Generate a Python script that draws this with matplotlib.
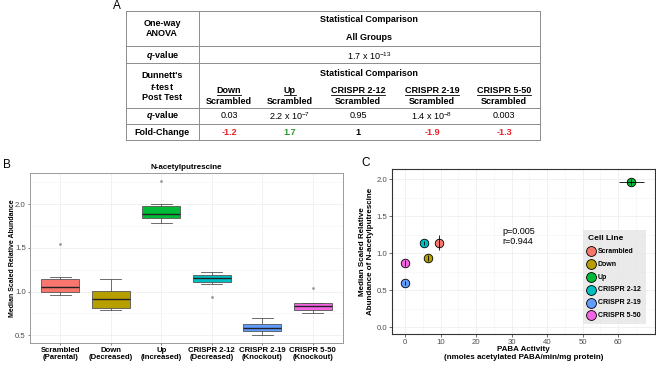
import numpy as np
import matplotlib
matplotlib.use('Agg')
import matplotlib.pyplot as plt

plt.rcParams['font.family'] = ['Liberation Sans', 'DejaVu Sans']
plt.rcParams['mathtext.fontset'] = 'custom'
plt.rcParams['mathtext.rm'] = 'Liberation Sans'
plt.rcParams['mathtext.it'] = 'Liberation Sans:italic:bold'
plt.rcParams['mathtext.default'] = 'regular'

# ---- table (panel A) ----
comp_groups = ['Down', 'Up', 'CRISPR 2-12', 'CRISPR 2-19', 'CRISPR 5-50']
q_values = ['0.03', r'2.2 x 10$^{-7}$', '0.95', r'1.4 x 10$^{-8}$', '0.003']
fold_change = ['-1.2', '1.7', '1', '-1.9', '-1.3']
anova_q = r'1.7 x 10$^{-13}$'

# ---- box plot (panel B) ----
box_labels = ['Scrambled\n(Parental)', 'Down\n(Decreased)', 'Up\n(Increased)',
              'CRISPR 2-12\n(Decreased)', 'CRISPR 2-19\n(Knockout)', 'CRISPR 5-50\n(Knockout)']
box_med = [1.056, 0.915, 1.89, 1.152, 0.58, 0.835]
box_q1 = [0.99, 0.81, 1.845, 1.106, 0.553, 0.79]
box_q3 = [1.148, 1.007, 1.976, 1.19, 0.626, 0.873]
box_lo = [0.958, 0.786, 1.78, 1.087, 0.50, 0.752]
box_hi = [1.17, 1.14, 2.0, 1.22, 0.694, 0.873]
box_fliers = [[1.55], [], [2.27], [0.942], [], [1.045]]

# ---- scatter (panel C) ----
cell_lines = ['Scrambled', 'Down', 'Up', 'CRISPR 2-12', 'CRISPR 2-19', 'CRISPR 5-50']
paba = [9.5, 6.5, 63.7, 5.3, 0.0, 0.0]
paba_err = [0.0, 0.0, 3.5, 0.0, 0.0, 0.0]
abund = [1.14, 0.94, 1.97, 1.14, 0.596, 0.867]
abund_err = [0.10, 0.04, 0.04, 0.03, 0.03, 0.04]

colors = ['#F8766D', '#B79F00', '#00BA38', '#00BFC4', '#619CFF', '#F564E3']

W, H = 656, 365
fig = plt.figure(figsize=(W / 100, H / 100), dpi=100)

# overlay axes in pixel coordinates for the table and panel letters
ov = fig.add_axes([0, 0, 1, 1])
ov.set_xlim(0, W)
ov.set_ylim(H, 0)
ov.axis('off')

tl, tr, tdiv = 125.7, 540, 198.7
hlines = [10.7, 46.3, 63.3, 108.3, 124, 140]
for y in hlines:
    ov.plot([tl, tr], [y, y], color='#8c8c8c', lw=0.7)
for x in [tl, tdiv, tr]:
    ov.plot([x, x], [hlines[0], hlines[-1]], color='#8c8c8c', lw=0.7)

fs = 6.5
cx = (tdiv + tr) / 2
lx = (tl + tdiv) / 2
ov.text(lx, 24, 'One-way', ha='center', va='center', fontsize=fs, fontweight='bold')
ov.text(lx, 34, 'ANOVA', ha='center', va='center', fontsize=fs, fontweight='bold')
ov.text(cx, 20, 'Statistical Comparison', ha='center', va='center', fontsize=fs, fontweight='bold')
ov.text(cx, 37.7, 'All Groups', ha='center', va='center', fontsize=fs, fontweight='bold')
ov.text(lx, 55.7, r'$\it{q}$-value', ha='center', va='center', fontsize=fs, fontweight='bold')
ov.text(cx, 55.7, anova_q, ha='center', va='center', fontsize=fs)
ov.text(lx, 76, "Dunnett's", ha='center', va='center', fontsize=fs, fontweight='bold')
ov.text(lx, 86.7, r'$\it{t}$-test', ha='center', va='center', fontsize=fs, fontweight='bold')
ov.text(lx, 97.3, 'Post Test', ha='center', va='center', fontsize=fs, fontweight='bold')
ov.text(cx, 74, 'Statistical Comparison', ha='center', va='center', fontsize=fs, fontweight='bold')
ov.text(lx, 116, r'$\it{q}$-value', ha='center', va='center', fontsize=fs, fontweight='bold')
ov.text(lx, 132.7, 'Fold-Change', ha='center', va='center', fontsize=fs, fontweight='bold')

col_x = [229, 290, 358, 432, 504]
head_txt = []
for x, g, q, fc in zip(col_x, comp_groups, q_values, fold_change):
    head_txt.append(ov.text(x, 90.7, g, ha='center', va='center', fontsize=fs, fontweight='bold'))
    ov.text(x, 101, 'Scrambled', ha='center', va='center', fontsize=fs, fontweight='bold')
    ov.text(x, 116, q, ha='center', va='center', fontsize=fs)
    v = float(fc)
    c = '#E8212B' if v < 0 else ('#2E9A2E' if v > 1 else 'black')
    ov.text(x, 132.7, fc, ha='center', va='center', fontsize=fs, fontweight='bold', color=c)

fig.text(113 / W, 1 - 6 / H, 'A', ha='left', va='center', fontsize=8.5)
fig.text(3 / W, 1 - 165 / H, 'B', ha='left', va='center', fontsize=8.5)
fig.text(361 / W, 1 - 163 / H, 'C', ha='left', va='center', fontsize=8.5)

# ---- panel B ----
axb = fig.add_axes([30 / W, 1 - 343 / H, (343 - 30) / W, (343 - 172.7) / H])
stats = []
for i in range(len(box_labels)):
    stats.append(dict(med=box_med[i], q1=box_q1[i], q3=box_q3[i],
                      whislo=box_lo[i], whishi=box_hi[i], fliers=box_fliers[i]))
pos = np.arange(1, len(box_labels) + 1)
bp = axb.bxp(stats, positions=pos, widths=0.75, patch_artist=True, capwidths=0.42,
             boxprops=dict(edgecolor='#555555', lw=0.6),
             whiskerprops=dict(color='#555555', lw=0.6),
             capprops=dict(color='#555555', lw=0.6),
             medianprops=dict(color='#222222', lw=1.0),
             flierprops=dict(marker='o', markersize=2, markerfacecolor='#9a9a9a',
                             markeredgecolor='none'))
for patch, c in zip(bp['boxes'], colors):
    patch.set_facecolor(c)
axb.set_xlim(0.4, 6.6)
axb.set_ylim(0.412, 2.36)
axb.set_xticks(pos)
axb.set_xticklabels(box_labels, fontsize=5.6, fontweight='bold')
for lbl in axb.get_xticklabels():
    lbl.set_linespacing(1.0)
axb.set_yticks([0.5, 1.0, 1.5, 2.0])
axb.set_yticks([0.75, 1.25, 1.75, 2.25], minor=True)
axb.set_yticklabels(['0.5', '1.0', '1.5', '2.0'], fontsize=5.6, color='#4D4D4D')
axb.grid(which='major', color='#EBEBEB', lw=0.5)
axb.grid(which='minor', axis='y', color='#F4F4F4', lw=0.4)
axb.set_axisbelow(True)
axb.tick_params(length=1.5, width=0.5, color='#555555', pad=1.5)
axb.tick_params(which='minor', length=0)
for s in axb.spines.values():
    s.set_color('#9a9a9a')
    s.set_linewidth(0.7)
axb.set_title('N-acetylputrescine', fontsize=5.8, fontweight='bold', pad=2.5)
axb.set_ylabel('Median Scaled Relative Abundance', fontsize=5.0, fontweight='bold')
axb.yaxis.set_label_coords(-0.045, 0.5)

# ---- panel C ----
axc = fig.add_axes([392.3 / W, 1 - 333.7 / H, (655 - 392.3) / W, (333.7 - 169) / H])
handles = []
for i, name in enumerate(cell_lines):
    h = axc.scatter(paba[i], abund[i], s=38, color=colors[i], edgecolor='black',
                    linewidth=0.6, zorder=3, label=name)
    handles.append(h)
axc.errorbar(paba, abund, xerr=paba_err, yerr=abund_err, fmt='none', ecolor='black',
             elinewidth=0.6, capsize=0, zorder=4)
axc.text(27.5, 1.30, 'p=0.005', fontsize=6.5, va='center', ha='left')
axc.text(27.5, 1.16, 'r=0.944', fontsize=6.5, va='center', ha='left')
axc.set_xlim(-3.6, 70.4)
axc.set_ylim(-0.09, 2.14)
axc.set_xticks([0, 10, 20, 30, 40, 50, 60])
axc.set_xticks([5, 15, 25, 35, 45, 55, 65], minor=True)
axc.set_yticks([0.0, 0.5, 1.0, 1.5, 2.0])
axc.set_yticks([0.25, 0.75, 1.25, 1.75], minor=True)
axc.set_xticklabels(['0', '10', '20', '30', '40', '50', '60'], fontsize=5.6, color='#4D4D4D')
axc.set_yticklabels(['0.0', '0.5', '1.0', '1.5', '2.0'], fontsize=5.6, color='#4D4D4D')
axc.grid(which='major', color='#EBEBEB', lw=0.5)
axc.grid(which='minor', color='#F4F4F4', lw=0.4)
axc.set_axisbelow(True)
axc.tick_params(length=2, width=0.5, color='#333333', pad=1.5)
axc.tick_params(which='minor', length=0)
for s in axc.spines.values():
    s.set_color('#333333')
    s.set_linewidth(0.8)
axc.set_ylabel('Median Scaled Relative\nAbundance of N-acetylputrescine', fontsize=5.8,
               fontweight='bold', linespacing=1.1)
axc.yaxis.set_label_coords(-0.07, 0.5)
axc.set_xlabel('PABA Activity\n(nmoles acetylated PABA/min/mg protein)', fontsize=5.8,
               fontweight='bold', linespacing=1.15)
axc.xaxis.set_label_coords(0.5, -0.075)

leg = axc.legend(handles=handles, title='Cell Line', loc='upper left',
                 bbox_to_anchor=(582.7 / W, 1 - 230 / H), bbox_transform=fig.transFigure,
                 borderaxespad=0, fontsize=5, title_fontsize=6, frameon=True,
                 labelspacing=0.85, handletextpad=0.5, borderpad=0.7,
                 handlelength=1.0, alignment='left', markerscale=1.15)
leg.get_frame().set_facecolor('#E5E5E5')
leg.get_frame().set_edgecolor('none')
leg.get_frame().set_boxstyle('square', pad=0)
leg.get_title().set_fontweight('bold')
for t in leg.get_texts():
    t.set_fontweight('bold')

# underline the comparison group names in the table
fig.canvas.draw()
inv = ov.transData.inverted()
for t in head_txt:
    bb = t.get_window_extent()
    (x0, y0), (x1, y1) = inv.transform([[bb.x0, bb.y0], [bb.x1, bb.y1]])
    ov.plot([x0, x1], [y0 + 0.3, y0 + 0.3], color='black', lw=0.6)

fig.savefig('out.png', dpi=100)
